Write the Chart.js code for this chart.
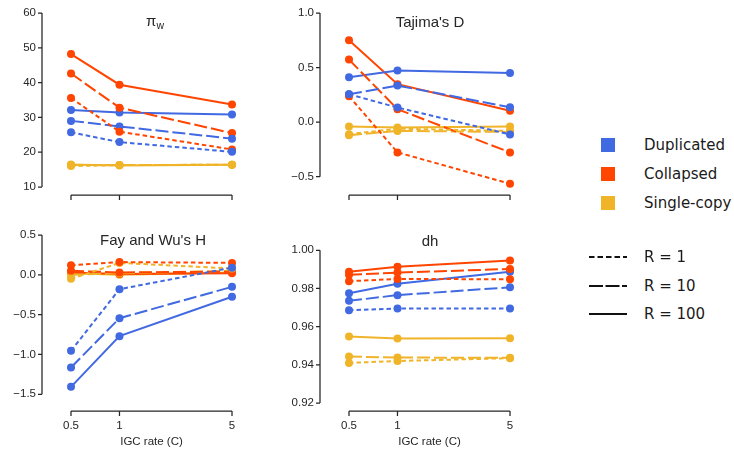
<!DOCTYPE html>
<html>
<head>
<meta charset="utf-8">
<script src="https://cdn.jsdelivr.net/npm/chart.js@4/dist/chart.umd.min.js"></script>
<style>
  body { margin: 0; background: #fff; }
  #wrap { position: relative; width: 734px; height: 453px; overflow: hidden;
          font-family: 'Liberation Sans', Arial, sans-serif; color: #262626; }
  canvas { position: absolute; }
  .ttl { position: absolute; font-size: 15px; transform: translate(-50%, -50%); white-space: nowrap; }
  .ttl sub { font-size: 10.5px; vertical-align: -3px; }
  .sq { position: absolute; left: 601px; width: 14px; height: 14px; }
  .lg { position: absolute; left: 644px; font-family: 'DejaVu Sans', sans-serif; font-size: 15px;
        color: #1a1a1a; transform: translateY(-50%); white-space: nowrap; }
  svg { position: absolute; left: 589px; }
</style>
</head>
<body>
<div id="wrap">
  <!-- canvases start 23px above the plot top: Chart.js reserves label height/2 + tick padding there -->
  <canvas id="c1" width="270" height="228" style="left:0;top:-10px"></canvas>
  <canvas id="c2" width="290" height="228" style="left:270px;top:-10px"></canvas>
  <canvas id="c3" width="270" height="241" style="left:0;top:212px"></canvas>
  <canvas id="c4" width="290" height="241" style="left:270px;top:212px"></canvas>

  <div class="ttl" style="left:155px;top:21px">π<sub>w</sub></div>
  <div class="ttl" style="left:430px;top:21px">Tajima's D</div>
  <div class="ttl" style="left:153px;top:239px">Fay and Wu's H</div>
  <div class="ttl" style="left:430px;top:240px">dh</div>

  <div id="legend"></div>
</div>
<script>
// x positions (IGC rate) and labels
var xValues = [0.5, 1, 5];
var xTickLabels = ['0.5', '1', '5'];
var groups = ['Duplicated', 'Collapsed', 'Single-copy'];
var rates = ['R = 1', 'R = 10', 'R = 100'];

// each group: rows are R = 1, R = 10, R = 100
var piDup = [[25.7, 22.9, 20.1], [29.0, 27.4, 23.9], [32.1, 31.4, 30.8]];
var piCol = [[35.6, 25.9, 20.8], [42.6, 32.8, 25.5], [48.2, 39.4, 33.7]];
var piSgl = [[16.0, 16.3, 16.4], [16.3, 16.3, 16.4], [16.5, 16.2, 16.4]];

var tajDup = [[0.256, 0.134, -0.113], [0.256, 0.335, 0.137], [0.412, 0.473, 0.451]];
var tajCol = [[0.238, -0.277, -0.564], [0.573, 0.119, -0.277], [0.75, 0.348, 0.104]];
var tajSgl = [[-0.11, -0.06, -0.08], [-0.12, -0.08, -0.09], [-0.04, -0.05, -0.04]];

var fwhDup = [[-0.954, -0.18, 0.09], [-1.163, -0.544, -0.151], [-1.406, -0.77, -0.276]];
var fwhCol = [[0.12, 0.16, 0.15], [0.05, 0.03, 0.04], [0.03, 0.01, 0.02]];
var fwhSgl = [[-0.05, 0.15, 0.08], [0.0, 0.02, 0.05], [0.02, 0.0, 0.03]];

var dhDup = [[0.9686, 0.9695, 0.9695], [0.9735, 0.9765, 0.9806], [0.9775, 0.9825, 0.9887]];
var dhCol = [[0.9838, 0.985, 0.9848], [0.9872, 0.9883, 0.9902], [0.9888, 0.9914, 0.9946]];
var dhSgl = [[0.941, 0.942, 0.9435], [0.9443, 0.9438, 0.9437], [0.9548, 0.9538, 0.9539]];

// y tick values and labels (ascending)
var piTicks = [10, 20, 30, 40, 50, 60];
var piTickLabels = ['10', '20', '30', '40', '50', '60'];
var tajTicks = [-0.5, 0, 0.5, 1.0];
var tajTickLabels = ['\u22120.5', '0.0', '0.5', '1.0'];
var fwhTicks = [-1.5, -1, -0.5, 0, 0.5];
var fwhTickLabels = ['\u22121.5', '\u22121.0', '\u22120.5', '0.0', '0.5'];
var dhTicks = [0.92, 0.94, 0.96, 0.98, 1.00];
var dhTickLabels = ['0.92', '0.94', '0.96', '0.98', '1.00'];

var colors = { 'Duplicated': '#4169E1', 'Collapsed': '#FF4500', 'Single-copy': '#F0B429' };
var dashes = [[4.5, 3], [13, 4], []];
var inkColor = '#262626';
var tickFont = { family: "'Liberation Sans', Arial, sans-serif", size: 11.5 };

// detached, trimmed axis lines like seaborn despine(offset, trim)
var spinePlugin = {
    id: 'spines',
    beforeDatasetsDraw: function (chart, args, opts) {
        var ctx = chart.ctx, a = chart.chartArea;
        var x = chart.scales.x, y = chart.scales.y;
        var yt = opts.yTicks;
        ctx.save();
        ctx.strokeStyle = inkColor;
        ctx.lineWidth = 1.25;
        ctx.beginPath();
        var sx = a.left - 10;
        ctx.moveTo(sx, y.getPixelForValue(yt[0]));
        ctx.lineTo(sx, y.getPixelForValue(yt[yt.length - 1]));
        yt.forEach(function (v) {
            var p = y.getPixelForValue(v);
            ctx.moveTo(sx - 4, p);
            ctx.lineTo(sx, p);
        });
        var sy = a.bottom + 8;
        ctx.moveTo(x.getPixelForValue(xValues[0]), sy);
        ctx.lineTo(x.getPixelForValue(xValues[xValues.length - 1]), sy);
        xValues.forEach(function (v) {
            var p = x.getPixelForValue(v);
            ctx.moveTo(p, sy);
            ctx.lineTo(p, sy + 5);
        });
        ctx.stroke();
        ctx.restore();
    }
};

function makePanel(id, series, yTicks, yLabels, yMin, yMax, showX, pad, yWidth, xHeight) {
    var datasets = [];
    [0, 1, 2].forEach(function (r) {
        groups.forEach(function (g, gi) {
            var c = colors[g];
            datasets.push({
                label: g + ' ' + rates[r],
                data: xValues.map(function (xv, i) { return { x: xv, y: series[gi][r][i] }; }),
                borderColor: c,
                backgroundColor: c,
                borderWidth: 2,
                borderDash: dashes[r],
                pointRadius: 4,
                pointBorderWidth: 0,
                tension: 0,
                clip: false
            });
        });
    });
    return new Chart(document.getElementById(id).getContext('2d'), {
        type: 'line',
        data: { datasets: datasets },
        options: {
            responsive: false,
            animation: false,
            devicePixelRatio: 1,
            layout: { padding: pad },
            plugins: {
                legend: { display: false },
                tooltip: { enabled: false },
                spines: { yTicks: yTicks }
            },
            scales: {
                x: {
                    type: 'logarithmic',
                    min: 0.381,
                    max: 6.56,
                    afterBuildTicks: function (s) { s.ticks = xValues.map(function (v) { return { value: v }; }); },
                    afterFit: function (s) { s.height = xHeight; },
                    grid: { display: false, drawTicks: false },
                    border: { display: false },
                    ticks: {
                        display: showX, padding: 16, color: inkColor, font: tickFont,
                        autoSkip: false, maxRotation: 0,
                        callback: function (v, i) { return xTickLabels[i]; }
                    },
                    title: {
                        display: showX, text: 'IGC rate (C)', color: inkColor, font: tickFont,
                        padding: { top: 0, bottom: 4 }
                    }
                },
                y: {
                    min: yMin,
                    max: yMax,
                    afterBuildTicks: function (s) { s.ticks = yTicks.map(function (v) { return { value: v }; }); },
                    afterFit: function (s) { s.width = yWidth; },
                    grid: { display: false, drawTicks: false },
                    border: { display: false },
                    ticks: {
                        padding: 16, color: inkColor, font: tickFont, autoSkip: false,
                        callback: function (v, i) { return yLabels[i]; }
                    }
                }
            }
        },
        plugins: [spinePlugin]
    });
}

makePanel('c1', [piDup, piCol, piSgl], piTicks, piTickLabels, 10, 60, false,
    { left: 0, top: 23, right: 19, bottom: 0 }, 52, 31);
makePanel('c2', [tajDup, tajCol, tajSgl], tajTicks, tajTickLabels, -0.594, 1.0, false,
    { left: 0, top: 23, right: 31, bottom: 0 }, 60, 31);
makePanel('c3', [fwhDup, fwhCol, fwhSgl], fwhTicks, fwhTickLabels, -1.609, 0.5, true,
    { left: 0, top: 23, right: 19, bottom: 0 }, 52, 50);
makePanel('c4', [dhDup, dhCol, dhSgl], dhTicks, dhTickLabels, 0.92, 1.008, true,
    { left: 0, top: 23, right: 31, bottom: 0 }, 60, 50);

// legend: colour squares and line styles
var legend = document.getElementById('legend');
var sqY = [145, 174, 203];
groups.forEach(function (g, i) {
    var sq = document.createElement('div');
    sq.className = 'sq';
    sq.style.top = (sqY[i] - 7) + 'px';
    sq.style.background = colors[g];
    legend.appendChild(sq);
    var t = document.createElement('div');
    t.className = 'lg';
    t.style.top = sqY[i] + 'px';
    t.textContent = g;
    legend.appendChild(t);
});
var lnY = [257, 286, 314];
var svgDash = ['5.5 3', '14 2.5', ''];
rates.forEach(function (r, i) {
    var svg = '<svg width="40" height="6" style="top:' + (lnY[i] - 3) + 'px">' +
        '<line x1="0" y1="3" x2="38" y2="3" stroke="#111" stroke-width="2"' +
        (svgDash[i] ? ' stroke-dasharray="' + svgDash[i] + '"' : '') + '/></svg>';
    legend.insertAdjacentHTML('beforeend', svg);
    var t = document.createElement('div');
    t.className = 'lg';
    t.style.top = lnY[i] + 'px';
    t.textContent = r;
    legend.appendChild(t);
});
</script>
</body>
</html>
